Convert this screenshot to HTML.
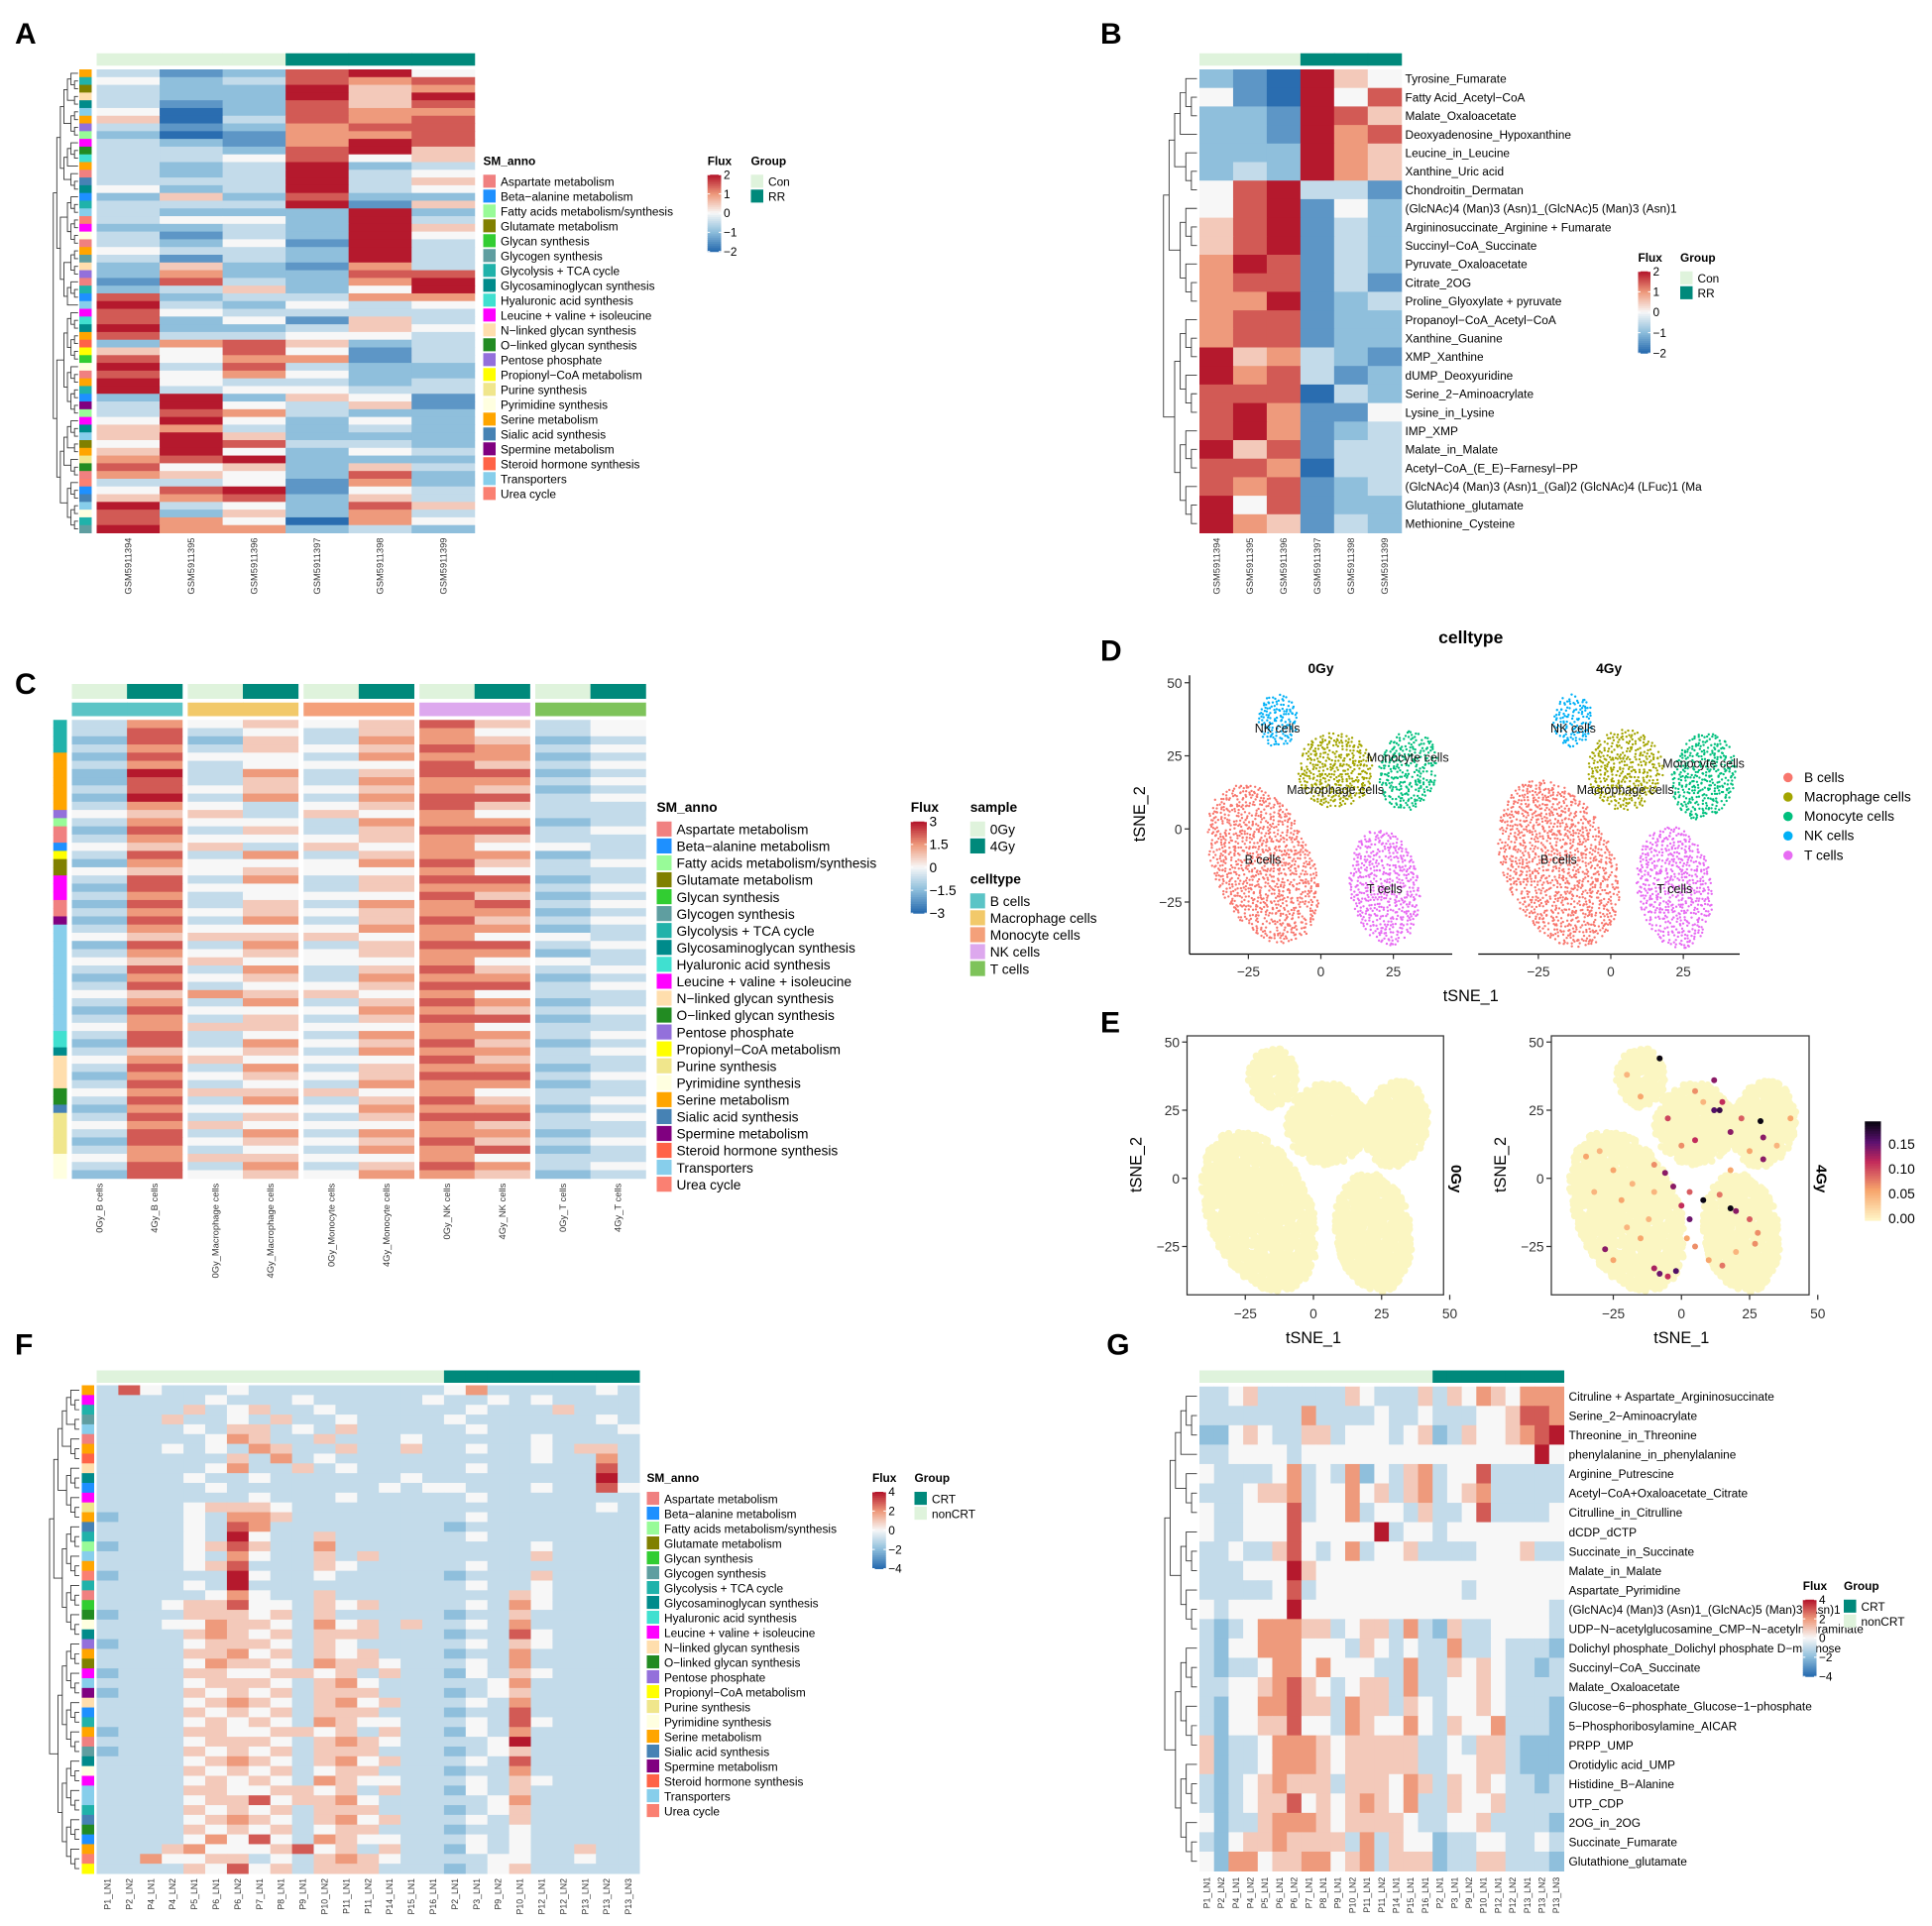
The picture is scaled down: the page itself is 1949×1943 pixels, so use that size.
<!DOCTYPE html>
<html><head><meta charset="utf-8">
<style>
html,body{margin:0;padding:0;background:#fff;}
svg{display:block;font-family:"Liberation Sans",Arial,sans-serif;}
</style></head>
<body>
<svg id="fig" width="1949" height="1943" viewBox="0 0 1559.2 1554.4" preserveAspectRatio="none" xmlns="http://www.w3.org/2000/svg">
<rect width="1559.2" height="1554.4" fill="#fff"/>
</svg>
<script>
// ---------- DATA ----------
const smNames=["Aspartate metabolism","Beta\u2212alanine metabolism","Fatty acids metabolism/synthesis","Glutamate metabolism","Glycan synthesis","Glycogen synthesis","Glycolysis + TCA cycle","Glycosaminoglycan synthesis","Hyaluronic acid synthesis","Leucine + valine + isoleucine","N\u2212linked glycan synthesis","O\u2212linked glycan synthesis","Pentose phosphate","Propionyl\u2212CoA metabolism","Purine synthesis","Pyrimidine synthesis","Serine metabolism","Sialic acid synthesis","Spermine metabolism","Steroid hormone synthesis","Transporters","Urea cycle"];
const smColors=["#F08080","#1E90FF","#98FB98","#808000","#32CD32","#5F9EA0","#20B2AA","#008B8B","#40E0D0","#FF00FF","#FFDEAD","#228B22","#9370DB","#FFFF00","#F0E68C","#FFFFE0","#FFA500","#4682B4","#800080","#FF6347","#87CEEB","#FA8072"];

const colsA=["GSM5911394","GSM5911395","GSM5911396","GSM5911397","GSM5911398","GSM5911399"];
const groupA=[0,0,0,1,1,1];
const valsA=["312784","423767","322856","322858","312757","402766","503767","312677","201667","321687","332785","334745","323823","323834","333835","423834","252722","333815","322282","344283","223285","313284","324183","433283","313283","252163","262277","173268","235248","723366","832434","743333","724153","822354","733443","267523","547413","746613","837322","746422","843323","834433","282541","384351","376322","484242","563232","585222","487332","584243","678222","745253","654272","334162","478143","567253","834275","725263","764064","866232"];
const annoA="qgdkhuqmcjliqarhbguvjpaqfkmagbujihqtnepaqgbscjhudqolavbrupgfe";

const rowsB=["Tyrosine_Fumarate","Fatty Acid_Acetyl\u2212CoA","Malate_Oxaloacetate","Deoxyadenosine_Hypoxanthine","Leucine_in_Leucine","Xanthine_Uric acid","Chondroitin_Dermatan","(GlcNAc)4 (Man)3 (Asn)1_(GlcNAc)5 (Man)3 (Asn)1","Argininosuccinate_Arginine + Fumarate","Succinyl\u2212CoA_Succinate","Pyruvate_Oxaloacetate","Citrate_2OG","Proline_Glyoxylate + pyruvate","Propanoyl\u2212CoA_Acetyl\u2212CoA","Xanthine_Guanine","XMP_Xanthine","dUMP_Deoxyuridine","Serine_2\u2212Aminoacrylate","Lysine_in_Lysine","IMP_XMP","Malate_in_Malate","Acetyl\u2212CoA_(E_E)\u2212Farnesyl\u2212PP","(GlcNAc)4 (Man)3 (Asn)1_(Gal)2 (GlcNAc)4 (LFuc)1 (Ma","Glutathione_glutamate","Methionine_Cysteine"];
const valsB=["210854","410847","221875","221867","222865","232865","478331","478142","578132","578132","687132","677131","668123","677122","677122","856321","867312","777032","786114","786123","857133","776033","767123","847122","865132"];

const colsC=["0Gy_B cells","4Gy_B cells","0Gy_Macrophage cells","4Gy_Macrophage cells","0Gy_Monocyte cells","4Gy_Monocyte cells","0Gy_NK cells","4Gy_NK cells","0Gy_T cells","4Gy_T cells"];
const cellNames=["B cells","Macrophage cells","Monocyte cells","NK cells","T cells"];
const cellColors=["#5BC4C6","#F2C96A","#F4A07A","#DDA8EE","#7EC35A"];
const valsC=["3645457534","3734356434","2725366523","3635457634","2744366623","3634447534","2836357723","2735366634","3745456523","2836367734","3643457533","4553546433","3644366623","2735357734","3644456533","4553546443","3736356623","2644467534","4545446433","3736357723","2744356634","3634447523","2735366734","3645456623","2736357534","3644466623","4555546443","2736357734","3645456623","4554446443","3736357534","2645366623","3734457734","4565546433","3636357623","2744466534","3635357723","4655446433","3734366634","2736457523","3545366634","4654447533","3736356623","2645457734","3734366623","4655546433","3736357534","2644466623","3735357734","4654446533","3736366623","2745457534","3634366723","4655446433","3736357634","2745466523"];
const annoC="ggggqqqqqqqmcaabnddjjjaasuuuuuuuuuuuuuiihkkkkllrooooopppppptt";

const colsFG=["P1_LN1","P2_LN2","P4_LN1","P4_LN2","P5_LN1","P6_LN1","P6_LN2","P7_LN1","P8_LN1","P9_LN1","P10_LN2","P11_LN1","P11_LN2","P14_LN1","P15_LN1","P16_LN1","P2_LN1","P3_LN1","P9_LN2","P10_LN1","P12_LN1","P12_LN2","P13_LN1","P13_LN2","P13_LN3"];
const groupFG=[1,1,1,1,1,1,1,1,1,1,1,1,1,1,1,1,0,0,0,0,0,0,0,0,0];
const valsF=["3743334333333333463333343","3333343334333334334343333","3333534533433333343335333","3335334353343333433333343","3333435534353333343333334","3333346533533343333343333","3334343653353353343343553","3333335363433333333343363","3333346335343333343333373","3333433433333343333333383","3333343333333434433343374","3333333433343333343333333","3333455543333333333333343","2333436653333333343333333","3333437633333333233333333","3333438433533333343333333","2333457533633333333343333","3333436433535333333353333","3333457333543333343333333","2333338433433333233353333","3333438333333333343343333","3333346433533333333543333","3334557443545333343643333","2333555453533333233533333","3334465543645353343633333","3333565453555333233743333","2333455543543333343543333","3333556453545333233633333","3333465543655433343633333","2333554455453533243543333","3333455543564333334633333","2333545453555333234533333","3333456543564533343633333","3333545453555333233733333","3333454543654433343743333","2333554455453533243633333","3333455543565433334833333","2333545453555333234533333","3333456543564533343733333","3333545453455333233633333","3333454543654433343543333","3333554455453533243533333","3333455745564333334633333","3333545453555333234533333","3333456543564533343533333","3333545453455333233433333","3333464743654433343433333","3335644457453533243433533","3364455343565433334433433","3333547453555333234533333"];
const annoF="qjgfuaqtkhbjoqrgcuqvgaelphmqdjuskbgqafhpjuugrlbqvnu";

const rowsG=["Citruline + Aspartate_Argininosuccinate","Serine_2\u2212Aminoacrylate","Threonine_in_Threonine","phenylalanine_in_phenylalanine","Arginine_Putrescine","Acetyl\u2212CoA+Oxaloacetate_Citrate","Citrulline_in_Citrulline","dCDP_dCTP","Succinate_in_Succinate","Malate_in_Malate","Aspartate_Pyrimidine","(GlcNAc)4 (Man)3 (Asn)1_(GlcNAc)5 (Man)3 (Asn)1","UDP\u2212N\u2212acetylglucosamine_CMP\u2212N\u2212acetylneuraminate","Dolichyl phosphate_Dolichyl phosphate D\u2212mannose","Succinyl\u2212CoA_Succinate","Malate_Oxaloacetate","Glucose\u22126\u2212phosphate_Glucose\u22121\u2212phosphate","5\u2212Phosphoribosylamine_AICAR","PRPP_UMP","Orotidylic acid_UMP","Histidine_B\u2212Alanine","UTP_CDP","2OG_in_2OG","Succinate_Fumarate","Glutathione_glutamate"];
const valsG=["3345333333543335354654666","3333333633334334333445776","2245433553444345235445678","3344443444444444444444484","4333346343624356344733333","3334556344645356345633333","4334447344634435334733334","4334447444448344344444444","3343357434634453333444533","3334448544444444444444444","3333347344444444443444444","4344448444444444444444443","3234666553455363253344443","3244666444354343363343332","3233466464443363354543323","3344567543455363344543333","3244667553655354344543332","3244557443654464354463332","5233466654555553343553222","5233466654555553344553222","3234565553555465354543323","3234557454565463354453333","4233566654555543344533332","3245565555363544233443343","4266455664563555233553332"];

// tSNE cluster shapes (data units) per condition
const clNames=["B cells","Macrophage cells","Monocyte cells","NK cells","T cells"];
const clColors=["#F8766D","#A3A500","#00BF7D","#00B0F6","#E76BF3"];
const clCx=[-20,5,30,-15,22];
const clCy=[-12,20,20,37,-20];
const clRx=[17,13,10,7,12];
const clRy=[29,13,14,9,20];
const clRot=[-0.4,0,0.2,0,-0.15];
const clCx4=[-18,5,32,-13,22];
const clCy4=[-12,20,18,37,-20];
const clRx4=[19,13,11,7,13];
const clRy4=[30,14,15,9,21];

// E 4Gy highlighted cells
const eX=[-8,-20,-15,-5,5,12,14,15,18,22,29,30,-35,-30,-25,-10,-3,0,3,8,14,18,20,25,28,-28,-10,-8,-5,-2,2,5,10,15,20,27,-20,-15,-12,-6,0,5,12,18,25,30,-32,-22,-18,-10,35,40,8,-25,3];
const eY=[44,38,30,22,32,36,25,28,17,22,21,7,8,10,3,-5,-3,-10,-15,-8,-6,-11,-12,-15,-20,-26,-33,-35,-36,-34,-22,-25,-30,-32,-27,-24,-18,-22,-15,2,12,14,25,3,10,15,-5,-8,-2,5,12,22,28,-30,-5];
const eV=[0.17,0.04,0.05,0.09,0.06,0.12,0.15,0.1,0.12,0.08,0.17,0.12,0.05,0.04,0.05,0.04,0.12,0.1,0.13,0.17,0.07,0.17,0.12,0.08,0.06,0.12,0.11,0.13,0.1,0.14,0.05,0.06,0.05,0.07,0.04,0.06,0.04,0.05,0.04,0.12,0.06,0.1,0.14,0.05,0.05,0.12,0.04,0.05,0.04,0.06,0.04,0.05,0.04,0.05,0.08];

// ---------- HELPERS ----------
const svg=document.getElementById('fig');
const NS='http://www.w3.org/2000/svg';
function el(tag,attrs,parent){const e=document.createElementNS(NS,tag);for(const k in attrs)e.setAttribute(k,attrs[k]);(parent||svg).appendChild(e);return e;}
function txt(x,y,s,size,opt,parent){opt=opt||{};const t=el('text',{x:x,y:y,'font-size':size,fill:opt.fill||'#000','text-anchor':opt.anchor||'start','font-weight':opt.bold?'bold':'normal'},parent);if(opt.rot!==undefined)t.setAttribute('transform','rotate('+opt.rot+' '+x+' '+y+')');t.textContent=s;return t;}
function hex(c){return [parseInt(c.substr(1,2),16),parseInt(c.substr(3,2),16),parseInt(c.substr(5,2),16)];}
function lerpStops(stops,t){for(let i=0;i<stops.length-1;i++){const a=stops[i],b=stops[i+1];if(t<=b[0]||i==stops.length-2){const u=Math.max(0,Math.min(1,(t-a[0])/(b[0]-a[0])));const ca=hex(a[1]),cb=hex(b[1]);return 'rgb('+ca.map((v,j)=>Math.round(v+(cb[j]-v)*u)).join(',')+')';}}}
const rdbu=[[-1,'#2a6db0'],[-0.5,'#8fbfdc'],[0,'#f7f7f7'],[0.5,'#ee9a7c'],[1,'#b5192d']];
function heatColor(d){return lerpStops(rdbu,(d-4)/4);}
const magma=[[0,'#fff3c4'],[0.3,'#f7a46b'],[0.6,'#c0285a'],[0.8,'#5a1070'],[1,'#0a0512']];

function heatmap(name,x,y,w,h,rows,gapAfter,gap){
  const g=el('g',{});
  
  
  const nr=rows.length,nc=rows[0].length;
  const ng=(gapAfter||[]).length;
  const cw=(w-ng*(gap||0))/nc,rh=h/nr;
  for(let r=0;r<nr;r++)for(let c=0;c<nc;c++){
    let off=0;(gapAfter||[]).forEach(a=>{if(c>a)off+=gap;});
    const cell=el('rect',{x:x+c*cw+off,y:y+r*rh,width:cw+0.4,height:rh+0.4,fill:heatColor(+rows[r][c])},g);
    
    
  }
  return {cw:cw,rh:rh};
}
function colX(x,w,nc,c,gapAfter,gap){const ng=(gapAfter||[]).length;const cw=(w-ng*(gap||0))/nc;let off=0;(gapAfter||[]).forEach(a=>{if(c>a)off+=gap;});return x+c*cw+off+cw/2;}
function dendro(name,n,y0,h,xr,width){
  const g=el('g',{stroke:'#333','stroke-width':0.7,fill:'none'});
  
  
  const rh=h/n;
  function build(lo,hi){if(hi-lo==1)return {y:y0+(lo+0.5)*rh,d:0};const m=Math.floor((lo+hi)/2)+((lo*7+hi*3)%3==0&&hi-lo>3?1:0);const a=build(lo,m),b=build(m,hi);return {y:(a.y+b.y)/2,d:Math.max(a.d,b.d)+1,a:a,b:b};}
  const root=build(0,n);const md=root.d;
  function X(d){return xr-d/md*width;}
  function draw(nd){if(!nd.a)return;const x=X(nd.d);el('path',{d:'M'+X(nd.a.d)+' '+nd.a.y+'H'+x+'V'+nd.b.y+'H'+X(nd.b.d)},g);draw(nd.a);draw(nd.b);}
  draw(root);
}
function annoStrip(name,x,y,w,h,str,n){
  const g=el('g',{});
  const rh=h/n;for(let i=0;i<n;i++){const k=str.charCodeAt(i%str.length)-97;el('rect',{x:x,y:y+i*rh,width:w,height:rh+0.4,fill:smColors[Math.max(0,Math.min(21,k))]},g);}
}
function groupBar(name,x,y,w,h,groups,cols,gapAfter,gap){
  const g=el('g',{});
  const nc=groups.length;const ng=(gapAfter||[]).length;const cw=(w-ng*(gap||0))/nc;
  for(let c=0;c<nc;c++){let off=0;(gapAfter||[]).forEach(a=>{if(c>a)off+=gap;});el('rect',{x:x+c*cw+off,y:y,width:cw+0.4,height:h,fill:cols[groups[c]]},g);}
}
function colLabels(name,x,w,y,labels,size,gapAfter,gap){
  const g=el('g',{});
  labels.forEach((s,c)=>{const cx=colX(x,w,labels.length,c,gapAfter,gap)+size*0.35;txt(cx,y,s,size,{anchor:'end',rot:-90,fill:'#333'},g);});
}
function smLegend(name,x,y,step,sw,size){
  const g=el('g',{});
  txt(x,y,'SM_anno',size,{bold:true},g);
  smNames.forEach((s,i)=>{el('rect',{x:x,y:y+8+i*step,width:sw,height:step-1.5,fill:smColors[i]},g);txt(x+sw+4,y+8+i*step+step*0.75,s,size,{},g);});
}
function fluxLegend(name,x,y,w,h,labels,size){
  const g=el('g',{});
  txt(x,y,'Flux',size,{bold:true},g);
  const by=y+8;const N=40;for(let i=0;i<N;i++){el('rect',{x:x,y:by+i*h/N,width:w,height:h/N+0.4,fill:heatColor(8-8*i/(N-1))},g);}
  labels.forEach((s,i)=>{const ty=by+i*h/(labels.length-1);el('line',{x1:x,x2:x+2,y1:ty,y2:ty,stroke:'#fff','stroke-width':0.8},g);el('line',{x1:x+w-2,x2:x+w,y1:ty,y2:ty,stroke:'#fff','stroke-width':0.8},g);txt(x+w+2,ty+size*0.35,s,size,{},g);});
}
function catLegend(name,x,y,title,labels,colors,step,sw,size){
  const g=el('g',{});
  txt(x,y,title,size,{bold:true},g);
  labels.forEach((s,i)=>{el('rect',{x:x,y:y+8+i*step,width:sw,height:step-1.5,fill:colors[i]},g);txt(x+sw+4,y+8+i*step+step*0.75,s,size,{},g);});
}
function panelLabel(s,x,y){const t=txt(x,y,s,24,{bold:true});}
const LIGHT='#dff3dc',TEAL='#00897B';

// ---------- PANEL A ----------
panelLabel('A',12,35);
groupBar('group-bar-a',78,43,305,10,groupA,[LIGHT,TEAL]);
heatmap('heatmap-a',78,56,305,374,valsA);
annoStrip('anno-strip-a',64,56,10,374,annoA,valsA.length);
dendro('dendrogram-a',valsA.length,56,374,63,20);
colLabels('col-labels-a',78,305,434,colsA,7.5);
smLegend('sm-legend-a',390,133,12,10,9.5);
fluxLegend('flux-legend-a',571,133,11,62,['2','1','0','\u22121','\u22122'],9.5);
catLegend('group-legend-a',606,133,'Group',['Con','RR'],[LIGHT,TEAL],12,10,9.5);

// ---------- PANEL B ----------
panelLabel('B',888,35);
groupBar('group-bar-b',968,43,163,10,groupA,[LIGHT,TEAL]);
heatmap('heatmap-b',968,56,163,374,valsB);
dendro('dendrogram-b',valsB.length,56,374,966,27);
colLabels('col-labels-b',968,163,434,colsA,7.5);
(function(){const g=el('g',{});const rh=374/rowsB.length;rowsB.forEach((s,i)=>txt(1134,56+(i+0.5)*rh+3.5,s,9.5,{},g));})();
fluxLegend('flux-legend-b',1322,211,10,66,['2','1','0','\u22121','\u22122'],9.5);
catLegend('group-legend-b',1356,211,'Group',['Con','RR'],[LIGHT,TEAL],12,10,9.5);

// ---------- PANEL C ----------
panelLabel('C',12,560);
const gapC=[1,3,5,7];
groupBar('sample-bar-c',58,552,463,12,[0,1,0,1,0,1,0,1,0,1],[LIGHT,TEAL],gapC,4.5);
groupBar('celltype-bar-c',58,567,463,11,[0,0,1,1,2,2,3,3,4,4],cellColors,gapC,4.5);
heatmap('heatmap-c',58,581,463,370,valsC,gapC,4.5);
annoStrip('anno-strip-c',43,581,11,370,annoC,valsC.length);
colLabels('col-labels-c',58,463,955,colsC,7.5,gapC,4.5);
smLegend('sm-legend-c',530,655,13.65,12,11);
fluxLegend('flux-legend-c',735,655,13,74,['3','1.5','0','\u22121.5','\u22123'],11);
catLegend('sample-legend-c',783,655,'sample',['0Gy','4Gy'],[LIGHT,TEAL],13.65,12,11);
catLegend('celltype-legend-c',783,713,'celltype',cellNames,cellColors,13.65,12,11);

// ---------- tSNE helpers ----------
function hash(i,j){let h=(i*374761393+j*668265263)>>>0;h=((h^(h>>>13))*1274126177)>>>0;return (h&0xffff)/65536;}
function blobPoints(cx,cy,rx,ry,rot,step,keep,fn){const R=Math.max(rx,ry);const ca=Math.cos(rot),sa=Math.sin(rot);for(let gx=cx-R;gx<=cx+R;gx+=step)for(let gy=cy-R;gy<=cy+R;gy+=step){const i=Math.round(gx*10),j=Math.round(gy*10);const px=gx+(hash(i,j)-0.5)*step,py=gy+(hash(j,i)-0.5)*step;const dx=px-cx,dy=py-cy;const u=dx*ca-dy*sa,v=dx*sa+dy*ca;const d=(u/rx)**2+(v/ry)**2;if(d<=1&&hash(i+7,j+3)<keep)fn(px,py);}}
function scatterPanel(name,ox,sx,oy,sy,CX,CY,RX,RY,mode,parent){
  const g=el('g',{},parent);
  CX.forEach((cx,k)=>{blobPoints(cx,CY[k],RX[k],RY[k],clRot[k],mode=='pale'?1.3:1.1,mode=='pale'?0.95:0.8,(x,y)=>{el('circle',{cx:ox+x*sx,cy:oy-y*sy,r:mode=='pale'?3:0.95,fill:mode=='pale'?'#fbf6c2':clColors[k]},g);});});
}

// ---------- PANEL D ----------
panelLabel('D',888,533);
txt(1187,519,'celltype',14,{bold:true,anchor:'middle'});
const dSX=2.34,dSY=2.36;
[[1066,'0Gy',960,1172],[1300,'4Gy',1193,1404]].forEach((p,pi)=>{
  const ox=p[0];const oy=669;
  const g=el('g',{});
  txt((p[2]+p[3])/2,543,p[1],11,{bold:true,anchor:'middle'},g);
  if(pi==0)scatterPanel('tsne-points-0gy',ox,dSX,oy,dSY,clCx,clCy,clRx,clRy,'color',g);
  else scatterPanel('tsne-points-4gy',ox,dSX,oy,dSY,clCx4,clCy4,clRx4,clRy4,'color',g);
  el('line',{x1:p[2],x2:p[3],y1:770,y2:770,stroke:'#000','stroke-width':1},g);
  if(pi==0)el('line',{x1:p[2],x2:p[2],y1:545,y2:770,stroke:'#000','stroke-width':1},g);
  [-25,0,25].forEach(v=>{const x=ox+v*dSX;el('line',{x1:x,x2:x,y1:770,y2:774,stroke:'#333'},g);txt(x,788,v==-25?'\u221225':String(v),11,{anchor:'middle',fill:'#333'},g);});
  if(pi==0)[50,25,0,-25].forEach(v=>{const y=oy-v*dSY;el('line',{x1:p[2]-4,x2:p[2],y1:y,y2:y,stroke:'#333'},g);txt(p[2]-6,y+4,v==-25?'\u221225':String(v),11,{anchor:'end',fill:'#333'},g);});
  const CX=pi==0?clCx:clCx4,CY=pi==0?clCy:clCy4;
  [[0,'B cells',0,0],[4,'T cells',0,-2],[1,'Macrophage cells',0,-8],[2,'Monocyte cells',0,3],[3,'NK cells',0,-4]].forEach(l=>{txt(ox+(CX[l[0]]+l[2])*dSX,oy-(CY[l[0]]+l[3])*dSY,l[1],10,{anchor:'middle',fill:'#111'},g);});
});
txt(1187,808,'tSNE_1',13,{anchor:'middle'});
txt(924,657,'tSNE_2',13,{anchor:'middle',rot:-90});
(function(){const g=el('g',{});clNames.forEach((s,i)=>{const y=631+i*15.7;el('circle',{cx:1443,cy:y-3.5,r:3.8,fill:clColors[i]},g);txt(1456,y,s,11,{},g);});})();

// ---------- PANEL E ----------
panelLabel('E',888,833);
const eSX=2.2,eSY=2.2;
[[1060,958,1165,'0Gy'],[1357,1252,1460,'4Gy']].forEach((p,pi)=>{
  const ox=p[0],oy=951;
  const g=el('g',{});
  scatterPanel('pale-points-'+p[3],ox,eSX,oy,eSY,clCx,clCy,clRx.map(r=>r+2),clRy.map(r=>r+2),'pale',g);
  if(pi==1){
    const hg=el('g',{},g);
    eX.forEach((x,i)=>{const c=el('circle',{cx:ox+x*eSX,cy:oy-eY[i]*eSY,r:2.4,fill:lerpStops(magma,Math.min(1,eV[i]/0.17))},hg);});
  }
  el('rect',{x:p[1],y:836,width:p[2]-p[1],height:209,fill:'none',stroke:'#333','stroke-width':1},g);
  [-25,0,25,50].forEach(v=>{const x=ox+v*eSX;el('line',{x1:x,x2:x,y1:1045,y2:1049,stroke:'#333'},g);txt(x,1064,v==-25?'\u221225':String(v),11,{anchor:'middle',fill:'#333'},g);});
  [50,25,0,-25].forEach(v=>{const y=oy-v*eSY;el('line',{x1:p[1]-4,x2:p[1],y1:y,y2:y,stroke:'#333'},g);txt(p[1]-6,y+4,v==-25?'\u221225':String(v),11,{anchor:'end',fill:'#333'},g);});
  txt(p[2]+6,940,p[3],12,{bold:true,rot:90},g);
  txt(ox,1084,'tSNE_1',13,{anchor:'middle'},g);
  txt(p[1]-37,940,'tSNE_2',13,{anchor:'middle',rot:-90},g);
});
(function(){const g=el('g',{});const N=40;for(let i=0;i<N;i++)el('rect',{x:1505,y:905+i*2,width:13,height:2.3,fill:lerpStops(magma,1-i/(N-1))},g);[['0.15',923],['0.10',943],['0.05',963],['0.00',983]].forEach(l=>txt(1524,l[1]+4,l[0],11,{},g));})();

// ---------- PANEL F ----------
panelLabel('F',12,1093);
groupBar('group-bar-f',78,1106,438,10,groupFG,[TEAL,LIGHT]);
heatmap('heatmap-f',78,1118,438,394,valsF);
annoStrip('anno-strip-f',66,1118,10,394,annoF,valsF.length);
dendro('dendrogram-f',valsF.length,1118,394,64,24);
colLabels('col-labels-f',78,438,1516,colsFG,7);
smLegend('sm-legend-f',522,1196,12,10,9.5);
fluxLegend('flux-legend-f',704,1196,11,62,['4','2','0','\u22122','\u22124'],9.5);
catLegend('group-legend-f',738,1196,'Group',['CRT','nonCRT'],[TEAL,LIGHT],12,10,9.5);

// ---------- PANEL G ----------
panelLabel('G',893,1093);
groupBar('group-bar-g',968,1106,294,10,groupFG,[TEAL,LIGHT]);
heatmap('heatmap-g',968,1119,294,391,valsG);
dendro('dendrogram-g',valsG.length,1119,391,966,26);
colLabels('col-labels-g',968,294,1515,colsFG,7);
(function(){const g=el('g',{});const rh=391/rowsG.length;rowsG.forEach((s,i)=>txt(1266,1119+(i+0.5)*rh+3.5,s,9.5,{},g));})();
fluxLegend('flux-legend-g',1455,1283,11,62,['4','2','0','\u22122','\u22124'],9.5);
catLegend('group-legend-g',1488,1283,'Group',['CRT','nonCRT'],[TEAL,LIGHT],12,10,9.5);
</script>
</body></html>
